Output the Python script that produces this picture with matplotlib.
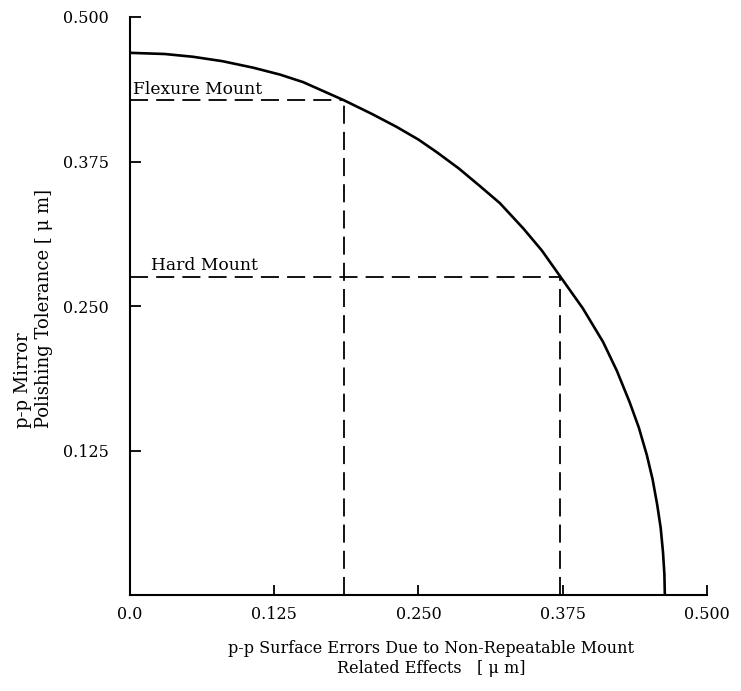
import matplotlib
matplotlib.use('Agg')
import matplotlib.pyplot as plt

# curve (surface error vs polishing tolerance, um)
curve_x = [0.0, 0.030, 0.0546, 0.080, 0.1066, 0.130, 0.150, 0.1854, 0.210,
           0.231, 0.250, 0.266, 0.285, 0.303, 0.3206, 0.341, 0.357, 0.3726,
           0.3925, 0.410, 0.422, 0.433, 0.441, 0.448, 0.453, 0.457, 0.460,
           0.462, 0.4632, 0.4636]
curve_y = [0.469, 0.468, 0.4656, 0.4618, 0.4562, 0.4502, 0.4437, 0.428, 0.416,
           0.405, 0.394, 0.383, 0.369, 0.354, 0.339, 0.317, 0.298, 0.276,
           0.248, 0.219, 0.194, 0.167, 0.145, 0.121, 0.100, 0.078, 0.058,
           0.037, 0.018, 0.0]

mount_names = ['Flexure Mount', 'Hard Mount']
mount_x = [0.1854, 0.3726]
mount_y = [0.428, 0.275]

x_ticks = [0.0, 0.125, 0.250, 0.375, 0.500]
x_labels = ['0.0', '0.125', '0.250', '0.375', '0.500']
y_ticks = [0.125, 0.250, 0.375, 0.500]
y_labels = ['0.125', '0.250', '0.375', '0.500']

plt.rcParams['font.family'] = ['DejaVu Serif']

fig = plt.figure(figsize=(7.41, 6.91), dpi=100)
ax = fig.add_axes([0.1754, 0.1389, 0.7785, 0.8365])

ax.plot(curve_x, curve_y, color='black', lw=1.9, solid_joinstyle='round')

for name, mx, my in zip(mount_names, mount_x, mount_y):
    ax.plot([0, mx], [my, my], color='black', lw=1.3, dashes=(10, 4.5))
    ax.plot([mx, mx], [0, my], color='black', lw=1.3, dashes=(10, 4.5))

ax.text(0.003, mount_y[0] + 0.002, mount_names[0], fontsize=12.3, va='bottom', ha='left')
ax.text(0.018, mount_y[1] + 0.003, mount_names[1], fontsize=12.3, va='bottom', ha='left')

ax.set_xlim(0, 0.5)
ax.set_ylim(0, 0.5)
ax.spines['top'].set_visible(False)
ax.spines['right'].set_visible(False)
ax.spines['left'].set_linewidth(1.5)
ax.spines['bottom'].set_linewidth(1.5)

ax.set_xticks(x_ticks)
ax.set_xticklabels(x_labels)
ax.set_yticks(y_ticks)
ax.set_yticklabels(y_labels)
ax.tick_params(axis='x', direction='in', length=7, width=1.3, pad=8, labelsize=11.5)
ax.tick_params(axis='y', direction='in', length=8, width=1.3, pad=15, labelsize=11.5)

fig.text(0.045, 0.553, 'p-p Mirror\nPolishing Tolerance [ μ m]', rotation=90,
         ha='center', va='center', multialignment='left', fontsize=13)
fig.text(0.5816, 0.047, 'p-p Surface Errors Due to Non-Repeatable Mount\nRelated Effects   [ μ m]',
         ha='center', va='center', multialignment='center', fontsize=11.5)

fig.savefig('out.png', dpi=100)
